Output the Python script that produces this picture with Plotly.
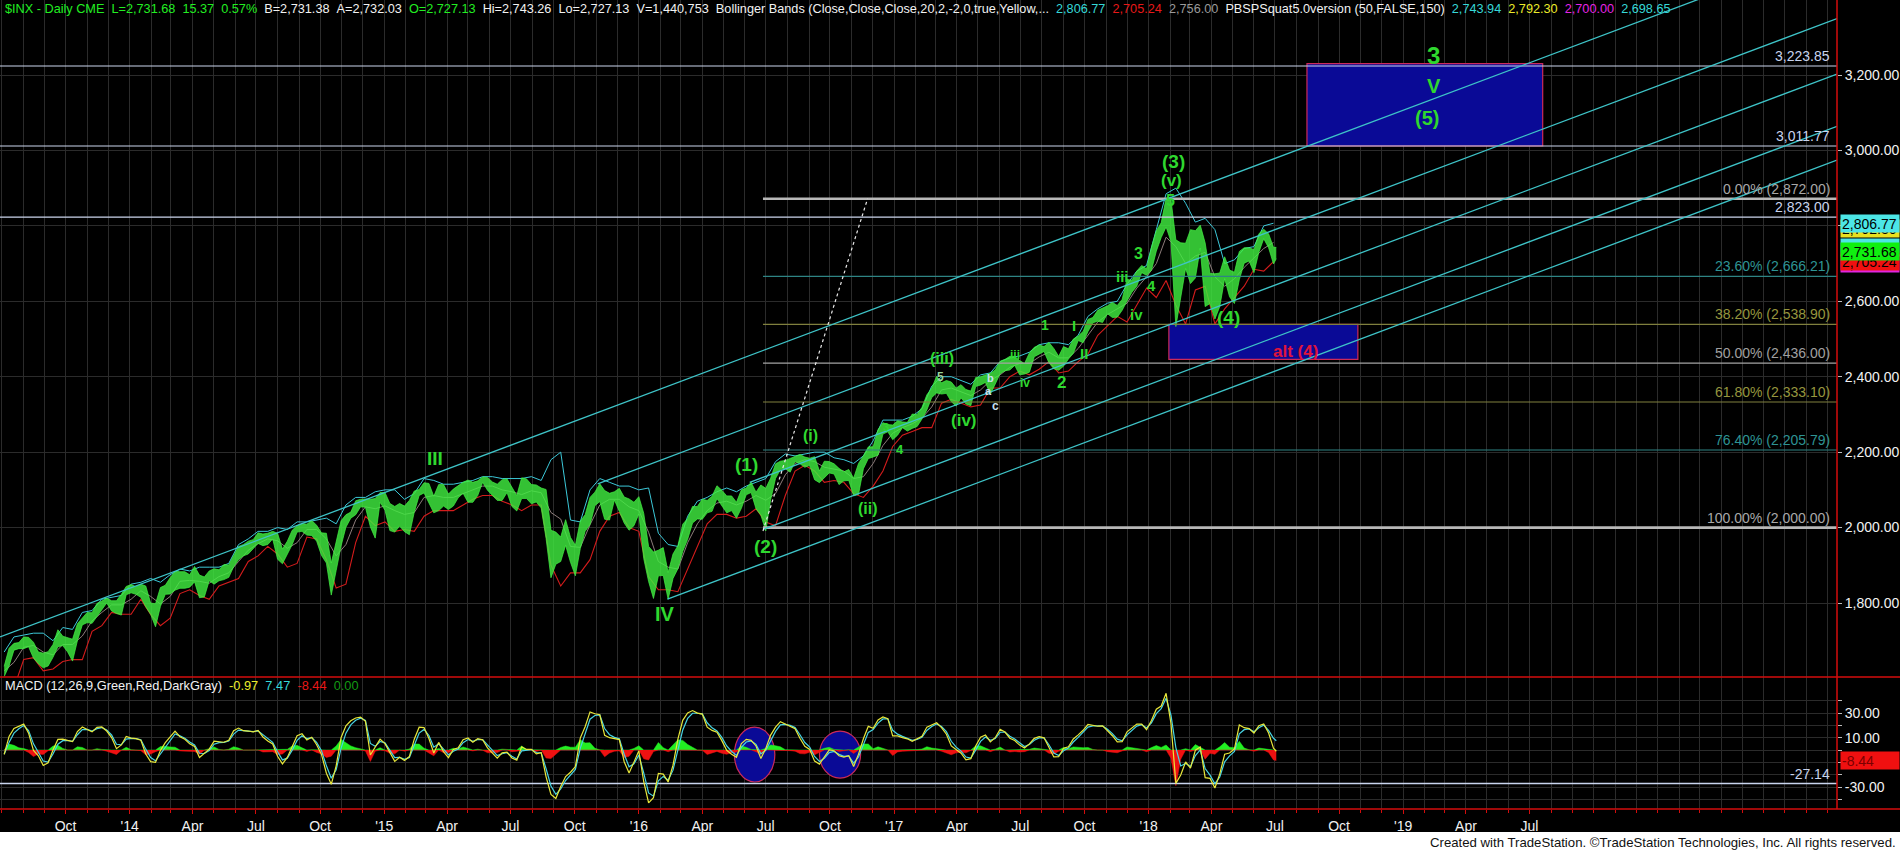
import pandas as pd
import plotly.graph_objects as go

# ---------------- DATA ----------------
week_dates = list(pd.date_range("2013-07-05", "2018-06-29", freq="W-FRI")) + [pd.Timestamp("2018-07-03")]
band_dates = week_dates[0:261:2]

week_high = [
    1632,1680,1693,1695,1710,1709,1696,1670,1667,1671,1690,1729,1712,1708,1704,1745,1760,1775,1774,1799,1805,1813,1806,1806,1823,1844,
    1849,1843,1850,1845,1800,1798,1841,1847,1867,1884,1883,1883,1875,1897,1874,1869,1885,1891,1888,1902,1901,1924,1950,1955,1964,1968,
    1986,1983,1985,1990,1985,1943,1964,1993,2005,2011,2009,2019,2006,1986,1985,1906,1966,2018,2034,2041,2071,2075,2076,2075,2077,2093,
    2093,2064,2056,2064,2057,2072,2097,2101,2119,2117,2083,2114,2114,2089,2102,2111,2120,2126,2120,2124,2134,2133,2121,2115,2127,2129,
    2105,2085,2132,2129,2114,2113,2105,2101,1993,1988,1975,2021,1974,1953,2017,2034,2080,2094,2116,2098,2091,2095,2104,2081,2076,2067,2082,
    2038,1950,1935,1940,1947,1881,1930,1952,2009,2024,2056,2056,2075,2072,2083,2111,2099,2084,2084,2067,2100,2105,2120,2094,2113,
    2104,2131,2169,2176,2178,2183,2188,2194,2187,2184,2188,2150,2176,2175,2169,2157,2148,2154,2131,2170,2190,2214,2214,2260,2278,2273,2272,
    2283,2280,2279,2301,2300,2319,2352,2370,2401,2384,2390,2386,2370,2379,2366,2362,2398,2400,2404,2409,2418,2441,2446,2454,2454,2443,
    2435,2463,2478,2484,2480,2491,2475,2454,2480,2474,2500,2508,2520,2552,2557,2576,2582,2588,2597,2589,2605,2658,2656,2680,2695,2686,
    2743,2787,2808,2873,2870,2763,2755,2754,2790,2787,2802,2755,2674,2673,2675,2718,2683,2677,2732,2742,2742,2737,2779,2791,2779,2743,2743]
week_low = [
    1605,1633,1675,1679,1679,1684,1654,1639,1628,1633,1656,1684,1687,1670,1646,1700,1742,1748,1746,1764,1784,1800,1779,1772,1768,1822,
    1827,1823,1815,1790,1770,1737,1791,1823,1824,1834,1839,1839,1842,1856,1814,1816,1859,1850,1859,1862,1868,1896,1915,1925,1930,1944,
    1958,1952,1955,1970,1916,1904,1928,1955,1988,1990,1980,1979,1964,1926,1906,1821,1886,1951,2001,2025,2034,2055,2054,2002,1972,2067,
    2046,1992,1988,2004,1989,1981,2041,2085,2092,2067,2039,2045,2057,2048,2057,2079,2091,2067,2067,2085,2120,2099,2085,2072,2072,2093,
    2056,2044,2077,2077,2063,2068,2052,1971,1867,1903,1910,1953,1908,1872,1944,1990,2008,2058,2069,2022,2020,2073,2043,2012,1993,2005,2036,
    1918,1857,1812,1872,1873,1810,1865,1891,1937,1969,2012,2023,2022,2039,2043,2077,2058,2039,2045,2025,2051,2087,2093,2050,2033,
    1991,2074,2130,2154,2156,2147,2175,2169,2160,2165,2127,2119,2133,2145,2142,2114,2124,2125,2084,2088,2156,2183,2187,2192,2248,2254,2233,
    2245,2265,2256,2263,2268,2288,2312,2345,2357,2354,2356,2334,2322,2344,2328,2323,2374,2378,2385,2353,2380,2408,2416,2418,2430,2405,
    2407,2412,2453,2459,2467,2437,2421,2417,2428,2447,2462,2496,2490,2520,2543,2547,2544,2567,2557,2558,2576,2601,2624,2640,2676,2669,
    2682,2733,2769,2797,2759,2533,2611,2687,2647,2662,2741,2586,2594,2553,2586,2660,2612,2594,2657,2701,2707,2676,2730,2766,2742,2699,2713]

bb_upper = [
    1670,1710,1715,1720,1720,1700,1735,1730,1775,1780,1810,1815,1820,
    1850,1855,1865,1855,1875,1890,1885,1895,1895,1895,1905,1955,1970,1990,1990,2000,1995,2015,2015,2020,2025,2010,2060,2080,2080,2095,
    2100,2100,2075,2090,2130,2125,2115,2115,2120,2125,2135,2135,2130,2130,2130,2135,2125,2180,2200,2020,2015,2100,2130,2120,2110,2110,
    2100,2105,1985,1955,1950,2030,2070,2080,2095,2105,2095,2110,2120,2130,2175,2195,2190,2195,2200,2200,2185,2180,2170,2190,2230,2285,2285,
    2285,2295,2315,2375,2400,2400,2390,2380,2405,2410,2440,2450,2455,2465,2485,2490,2490,2485,2510,2560,2580,2595,2600,2645,2680,2695,
    2790,2885,2900,2860,2810,2820,2790,2700,2710,2740,2745,2800,2807]
bb_lower = [
    1570,1575,1650,1655,1620,1625,1645,1650,1650,1725,1740,1775,1770,
    1770,1810,1770,1740,1760,1825,1835,1820,1810,1845,1855,1865,1910,1925,1950,1930,1895,1905,1975,1970,1915,1840,1850,1960,2030,2005,
    2015,1990,1995,1990,2030,2045,2045,2045,2060,2075,2085,2085,2070,2060,2045,2060,2060,1900,1845,1880,1880,1915,1990,2030,2040,2000,
    1990,1870,1835,1835,1830,1890,1950,2010,2035,2035,2025,2030,2050,2015,2005,2085,2150,2165,2150,2120,2125,2120,2090,2080,2110,2150,2215,
    2245,2255,2265,2265,2330,2340,2330,2320,2325,2370,2370,2400,2415,2405,2420,2440,2410,2415,2440,2460,2510,2535,2560,2545,2590,2635,
    2610,2655,2590,2540,2630,2640,2540,2580,2610,2640,2685,2680,2705]

macd_line = [
    -3.5,11,17.5,19,21,13.7,-0.3,-4.7,-12.5,-10.3,0,8.6,8.9,7.8,6.8,15,18.7,16.7,14.7,18.4,18.7,15.4,10.1,1.1,4.1,11,
    9.7,9.2,7.9,-3.2,-9.4,-10,-0.4,6,10.6,15.3,10.8,8.7,5,2.9,-6,-2.9,0.7,7.2,6.5,6.3,7.9,15.6,17.8,15.7,15.4,14.7,
    15.9,10.6,7.3,4.9,-5.1,-11.2,-6,3.2,11.6,13.3,8.2,10.4,4.3,-3.7,-18.8,-27.8,-12.8,10,19.7,23.7,26,26.7,23.3,-4,2,8.8,
    5.2,-2.4,-9.2,-5.8,-8.5,-5.3,8.8,18.5,18.2,9.4,-2.4,6.2,-1.4,-6.2,0.4,1.8,8.4,9.8,6.4,9.2,8.3,1.7,-2.6,-6.6,-2.3,-1.8,
    -6.4,-8.2,2.6,0.5,0.6,-3.1,-2.2,-21.7,-36,-39.3,-29.5,-21.5,-18,-13.4,9.7,18.9,30.9,29.4,28.6,11.9,10,9.3,8.5,-9.5,-18.7,-9.8,-0.6,
    -25.7,-42.9,-38.6,-18.9,-19.5,-25.9,-12.3,8.8,24.1,30.1,32,29.9,29.1,18.5,15.9,14.4,7.6,-0.2,-3.4,-5.9,5.3,8.7,7.9,3.3,-6.8,
    1.2,12.1,18.6,23,21.1,19.5,17.3,9.5,3,0.5,-9,-11.4,-5.3,0.1,-0.6,-4.6,-5.8,-4.6,-13.4,-3.3,9.1,19.2,17.7,24.4,26.8,25.4,11.5,
    11.4,10.1,9.1,7,9.1,11.1,18.6,20.6,22.1,18.1,12.8,3.3,0,-2.6,-8,-7,3.2,10.4,12.2,6.6,10,16.8,14.6,9.6,7.7,4,
    1.6,5,9.5,10.8,9.9,1.7,-5.6,-5.4,1.4,2.7,9,12.3,16,20.7,20.1,19.3,19.6,15.5,11.6,6.6,6.7,14.8,17.9,21,21,16.5,
    24,33.1,35.7,46,21.5,-27,-20.3,-9.7,-14.6,-0.1,2.4,-22.4,-23,-30.8,-19.3,-3.4,-2.4,0.8,20.3,18.1,17.4,13.8,19.7,21.2,13.8,1.5,-0.97]
macd_signal = [
    -3.5,6.2,13.7,17.2,19.8,15.7,5.0,-1.4,-8.9,-9.8,-3.2,4.7,7.6,7.7,7.1,12.4,16.6,16.7,15.3,17.3,18.2,16.3,12.2,4.7,4.3,8.8,
    9.4,9.3,8.4,0.7,-6.1,-8.7,-3.2,2.9,8.1,13.0,11.5,9.6,6.6,4.1,-2.6,-2.8,-0.4,4.7,6.0,6.2,7.3,12.9,16.2,15.8,15.5,14.9,
    15.6,12.2,8.9,6.2,-1.4,-8.0,-6.6,-0.1,7.8,11.5,9.3,10.1,6.2,-0.5,-12.8,-22.8,-16.1,1.4,13.7,20.4,24.1,25.9,24.1,5.3,3.0,6.9,
    5.8,0.3,-6.1,-5.9,-7.6,-6.1,3.9,13.7,16.7,11.8,2.3,5.0,0.8,-3.9,-1.0,0.9,5.9,8.5,7.1,8.5,8.4,3.9,-0.4,-4.5,-3.0,-2.2,
    -5.0,-7.2,-0.7,0.1,0.4,-2.0,-2.2,-15.2,-29.1,-35.9,-31.6,-24.7,-20.3,-15.7,1.3,13.1,25.0,28.0,28.4,17.4,12.4,10.3,9.1,-3.4,-13.6,-11.1,-4.1,
    -18.6,-34.8,-37.4,-25.0,-21.4,-24.5,-16.3,0.5,16.3,25.6,29.8,29.8,29.3,22.1,18.0,15.5,10.2,3.3,-1.2,-4.4,2.1,6.5,7.4,4.6,-3.1,
    -0.2,8.0,15.1,20.4,20.8,20.0,18.2,12.4,6.1,2.3,-5.2,-9.3,-6.7,-2.1,-1.1,-3.5,-5.1,-4.8,-10.6,-5.7,4.2,14.3,16.6,21.8,25.2,25.3,16.0,
    12.9,11.1,9.8,7.9,8.7,10.3,15.9,19.0,21.1,19.1,14.9,7.1,2.3,-0.9,-5.7,-6.6,-0.1,7.0,10.5,7.9,9.3,14.4,14.6,11.2,8.9,5.6,
    2.9,4.4,7.9,9.8,9.8,4.3,-2.4,-4.4,-0.6,1.6,6.5,10.3,14.1,18.6,19.6,19.4,19.5,16.8,13.3,8.8,7.4,12.3,16.1,19.4,20.5,17.9,
    22.0,29.5,33.6,41.9,28.2,2.0,-12.9,-10.8,-13.4,-4.5,0.1,-15.0,-20.4,-27.3,-21.9,-9.5,-4.7,-1.1,13.2,16.5,17.1,14.8,18.1,20.2,15.9,9.5,7.47]

fib_levels = [2872.00, 2666.21, 2538.90, 2436.00, 2333.10, 2205.79, 2000.00]
fib_texts = ["0.00% (2,872.00)", "23.60% (2,666.21)", "38.20% (2,538.90)", "50.00% (2,436.00)",
             "61.80% (2,333.10)", "76.40% (2,205.79)", "100.00% (2,000.00)"]
fib_start = "2016-06-27"
target_levels = [3223.85, 3011.77, 2823.00]
target_texts = ["3,223.85", "3,011.77", "2,823.00"]
macd_level = -27.14

channel_start_dates = ["2013-06-29", "2015-11-03", "2016-06-08", "2016-06-27", "2016-02-11"]
channel_start_prices = [1710, 2116, 2120, 1995, 1810]
channel_end_date = "2020-09-14"
channel_end_prices = [3538.5, 3349.6, 3202.3, 3064.0, 2974.2]

proj_dates = ["2016-06-27", "2016-11-24"]
proj_prices = [1991, 2872]

box_wave = {"x0": "2018-08-16", "x1": "2019-07-20", "y0": 3011.77, "y1": 3230}
box_alt4 = {"x0": "2018-01-30", "x1": "2018-10-28", "y0": 2446, "y1": 2538.9}

tick_dates = ["2013-10-01", "2014-01-01", "2014-04-01", "2014-07-01", "2014-10-01", "2015-01-01", "2015-04-01",
              "2015-07-01", "2015-10-01", "2016-01-01", "2016-04-01", "2016-07-01", "2016-10-01", "2017-01-01",
              "2017-04-01", "2017-07-01", "2017-10-01", "2018-01-01", "2018-04-01", "2018-07-01", "2018-10-01",
              "2019-01-01", "2019-04-01", "2019-07-01"]
tick_labels = ["Oct", "'14", "Apr", "Jul", "Oct", "'15", "Apr", "Jul", "Oct", "'16", "Apr", "Jul", "Oct", "'17",
               "Apr", "Jul", "Oct", "'18", "Apr", "Jul", "Oct", "'19", "Apr", "Jul"]
price_ticks = [1800, 2000, 2200, 2400, 2600, 2800, 3000, 3200]
price_tick_text = ["1,800.00", "2,000.00", "2,200.00", "2,400.00", "2,600.00", "", "3,000.00", "3,200.00"]
macd_ticks = [-40, -30, -20, -10, 0, 10, 20, 30, 40]
macd_tick_text = ["", "-30.00", "", "", "", "10.00", "", "30.00", ""]

# wave labels: (text, date, price, size, color)
G = "#2fd82f"
wave_labels = [
    ("III", "2015-03-15", 2184, 19, G), ("IV", "2016-02-08", 1771, 20, G),
    ("(1)", "2016-06-04", 2166, 19, G), ("(2)", "2016-06-30", 1951, 19, G),
    ("(i)", "2016-09-03", 2245, 16, G), ("(ii)", "2016-11-25", 2051, 16, G),
    ("(iii)", "2017-03-11", 2449, 16, G), ("(iv)", "2017-04-11", 2285, 17, G),
    ("4", "2017-01-10", 2206, 13, G), ("3", "2016-12-20", 2268, 11, G),
    ("5", "2017-03-08", 2400, 12, "#9ad29a"),
    ("b", "2017-05-19", 2396, 11, "#c8e0f0"), ("a", "2017-05-17", 2361, 11, "#c8e0f0"),
    ("c", "2017-05-26", 2322, 12, "#c8e0f0"),
    ("iii", "2017-06-23", 2458, 12, G), ("iv", "2017-07-07", 2384, 12, G),
    ("1", "2017-08-06", 2537, 14, G), ("I", "2017-09-16", 2537, 15, G),
    ("2", "2017-08-29", 2384, 17, G), ("II", "2017-10-01", 2462, 15, G),
    ("iii", "2017-11-25", 2665, 15, G), ("3", "2017-12-17", 2727, 16, G),
    ("4", "2018-01-05", 2643, 15, G), ("iv", "2017-12-14", 2566, 15, G),
    ("5", "2018-02-01", 2866, 16, G), ("(v)", "2018-02-03", 2919, 17, G),
    ("(3)", "2018-02-05", 2972, 19, G), ("(4)", "2018-04-25", 2557, 19, G),
    ("alt (4)", "2018-07-30", 2468, 17, "#e0143c"),
    ("3", "2019-02-14", 3253, 24, G), ("V", "2019-02-14", 3171, 20, G), ("(5)", "2019-02-04", 3086, 20, G),
]

# ---------------- FIGURE ----------------
FONT = "Liberation Sans, Arial, sans-serif"
X0, X1 = "2013-06-29", "2020-09-14"
P_RANGE = [1603.8, 3398.9]
M_RANGE = [-47.8, 59.2]
SPLIT = 132 / 809.0

fig = go.Figure()

def line(x, y, color, width=1.0, dash=None, yaxis="y"):
    fig.add_trace(go.Scatter(x=x, y=y, mode="lines", yaxis=yaxis, hoverinfo="skip",
                             line=dict(color=color, width=width, dash=dash), showlegend=False))

# Bollinger bands
line(band_dates, bb_upper, "#3cc8d8", 1.0)
line(band_dates, bb_lower, "#d41c1c", 1.1)
line(band_dates, [(u + l) / 2 for u, l in zip(bb_upper, bb_lower)], "#8c7c7a", 1.0)

# price range ribbon
fig.add_trace(go.Scatter(x=week_dates, y=week_low, mode="lines", line=dict(color="#44f044", width=0.7),
                         hoverinfo="skip", showlegend=False))
fig.add_trace(go.Scatter(x=week_dates, y=week_high, mode="lines", line=dict(color="#44f044", width=0.7),
                         fill="tonexty", fillcolor="rgba(64,236,64,0.82)", hoverinfo="skip", showlegend=False))

# horizontal target lines (full width)
for lv in target_levels:
    line([X0, X1], [lv, lv], "#ccd6ee", 1.2)

# fib lines
fib_line_colors = ["#b8b8b8", "#2e8484", "#80803e", "#a4a4a4", "#80803e", "#2e8484", "#b8b8b8"]
fib_line_widths = [2.6, 1.1, 1.1, 1.2, 1.1, 1.1, 2.6]
for lv, c, w in zip(fib_levels, fib_line_colors, fib_line_widths):
    line([fib_start, X1], [lv, lv], c, w)

# channel lines
for sd, sp, ep in zip(channel_start_dates, channel_start_prices, channel_end_prices):
    line([sd, channel_end_date], [sp, ep], "#3ec4c8", 1.3)

# projection dotted line
line(proj_dates, proj_prices, "#e8e8e8", 1.2, dash="dot")

# MACD
hist = [m - s for m, s in zip(macd_line, macd_signal)]
fig.add_trace(go.Scatter(x=week_dates, y=[max(h, 0) for h in hist], yaxis="y2", mode="lines",
                         line=dict(color="#22ee22", width=0.5), fill="tozeroy", fillcolor="#22ee22",
                         hoverinfo="skip", showlegend=False))
fig.add_trace(go.Scatter(x=week_dates, y=[min(h, 0) for h in hist], yaxis="y2", mode="lines",
                         line=dict(color="#ee1111", width=0.5), fill="tozeroy", fillcolor="#ee1111",
                         hoverinfo="skip", showlegend=False))
line([X0, X1], [macd_level, macd_level], "#c8d4ee", 1.4, yaxis="y2")
line(week_dates, macd_signal, "#46d4e4", 1.2, yaxis="y2")
line(week_dates, macd_line, "#e8e83a", 1.2, yaxis="y2")

# ---------------- SHAPES ----------------
def shape_layer():
    try:
        go.layout.Shape(layer="between")
        return "between"
    except Exception:
        return "below"

LAY = shape_layer()
shapes = []
for b in (box_wave, box_alt4):
    shapes.append(dict(type="rect", xref="x", yref="y", x0=b["x0"], x1=b["x1"], y0=b["y0"], y1=b["y1"],
                       fillcolor="#0a0a96", line=dict(color="#cc2a5a", width=1.2), layer=LAY))
for (a, b_, c, d) in [("2016-05-17", "2016-07-14", -25.9, 18.6), ("2016-09-16", "2016-11-14", -22.7, 15.4)]:
    shapes.append(dict(type="circle", xref="x", yref="y2", x0=a, x1=b_, y0=c, y1=d,
                       fillcolor="#0a0a96", line=dict(color="#cc2a5a", width=1.2), layer=LAY))
RED = "#d40c0c"
XR = 1900 / 1837.0
shapes += [
    dict(type="line", xref="paper", yref="paper", x0=0, x1=XR, y0=SPLIT, y1=SPLIT, line=dict(color=RED, width=1.5)),
    dict(type="line", xref="paper", yref="paper", x0=0, x1=XR, y0=0, y1=0, line=dict(color=RED, width=1.5)),
    dict(type="line", xref="paper", yref="paper", x0=1, x1=1, y0=0, y1=1, line=dict(color=RED, width=1.5)),
    dict(type="rect", xref="paper", yref="paper", x0=-0.01, x1=XR + 0.01, y0=(809 - 851) / 809.0,
         y1=(809 - 832) / 809.0, fillcolor="white", line=dict(width=0)),
]

# ---------------- ANNOTATIONS ----------------
ann = []
def span(t, c):
    return '<span style="color:%s">%s</span>' % (c, t)
SP = "\u00a0\u00a0"
GR, WH, CY, RD, GY, YL, MG = "#22ee22", "#f2f2f2", "#36d8d8", "#e81818", "#9a9a9a", "#ecec2a", "#e624e6"
header = SP.join([span("$INX - Daily CME", GR), span("L=2,731.68", GR), span("15.37", GR), span("0.57%", GR),
                  span("B=2,731.38", WH), span("A=2,732.03", WH), span("O=2,727.13", GR), span("Hi=2,743.26", WH),
                  span("Lo=2,727.13", WH), span("V=1,440,753", WH),
                  span("Bollinger Bands (Close,Close,Close,20,2,-2,0,true,Yellow,...", WH),
                  span("2,806.77", CY), span("2,705.24", RD), span("2,756.00", GY),
                  span("PBSPSquat5.0version (50,FALSE,150)", WH), span("2,743.94", CY), span("2,792.30", YL),
                  span("2,700.00", MG), span("2,698.65", CY)])
ann.append(dict(text=header, xref="paper", yref="paper", x=0.0015, y=(809 - 9) / 809.0, xanchor="left",
                yanchor="middle", showarrow=False, font=dict(family=FONT, size=12.7, color=WH)))
macd_head = SP.join([span("MACD (12,26,9,Green,Red,DarkGray)", WH), span("-0.97", YL), span("7.47", CY),
                     span("-8.44", RD), span("0.00", "#139a13")])
ann.append(dict(text=macd_head, xref="paper", yref="paper", x=0.0015, y=(809 - 685) / 809.0, xanchor="left",
                yanchor="middle", showarrow=False, font=dict(family=FONT, size=12.8, color=WH)))
ann.append(dict(text="Created with TradeStation. \u00a9TradeStation Technologies, Inc. All rights reserved.",
                xref="paper", yref="paper", x=1898 / 1837.0, y=(809 - 842) / 809.0, xanchor="right",
                yanchor="middle", showarrow=False, font=dict(family=FONT, size=13.2, color="#111111")))

XL = 1832 / 1837.0
for lv, t in zip(target_levels, target_texts):
    ann.append(dict(text=t, xref="paper", yref="y", x=XL, y=lv, xanchor="right", yanchor="bottom",
                    showarrow=False, font=dict(family=FONT, size=14, color="#c8d4ee")))
fib_text_colors = ["#a8a8a8", "#2e9494", "#96963e", "#a0a0a0", "#96963e", "#2e9494", "#a8a8a8"]
for lv, t, c in zip(fib_levels, fib_texts, fib_text_colors):
    ann.append(dict(text=t, xref="paper", yref="y", x=XL, y=lv, xanchor="right", yanchor="bottom",
                    showarrow=False, font=dict(family=FONT, size=14, color=c)))
ann.append(dict(text="-27.14", xref="paper", yref="y2", x=XL, y=macd_level, xanchor="right", yanchor="bottom",
                showarrow=False, font=dict(family=FONT, size=14, color="#c8d4ee")))

for t, d, p, s, c in wave_labels:
    ann.append(dict(text="<b>%s</b>" % t, xref="x", yref="y", x=d, y=p, showarrow=False,
                    font=dict(family=FONT, size=s, color=c)))

# price markers on the axis (stacked as in the reference)
markers = [("2,792.30", 2792.30, "#e8e020"), ("2,806.77", 2806.77, "#4ce6e6"),
           ("2,700.00", 2700.00, "#e024e0"), ("2,743.94", 2743.94, "#4ce6e6"),
           ("2,705.24", 2705.24, "#f01010"), ("2,731.68", 2731.68, "#10f010")]
for t, v, c in markers:
    ann.append(dict(text=t, xref="paper", yref="y", x=1.0015, y=v, xanchor="left", yanchor="middle",
                    showarrow=False, bgcolor=c, width=56, height=15, align="left",
                    font=dict(family=FONT, size=14, color="#000000")))
ann.append(dict(text="-8.44", xref="paper", yref="y2", x=1.0015, y=-8.44, xanchor="left", yanchor="middle",
                showarrow=False, bgcolor="#f01010", width=56, height=15, align="left",
                font=dict(family=FONT, size=14, color="#7a0000")))

GRID = "#2b2b2b"
fig.update_layout(
    width=1900, height=850, margin=dict(l=0, r=63, t=0, b=41),
    paper_bgcolor="black", plot_bgcolor="black", showlegend=False,
    shapes=shapes, annotations=ann,
    xaxis=dict(type="date", range=[X0, X1], anchor="y2", tickmode="array", tickvals=tick_dates,
               ticktext=tick_labels, tickfont=dict(family=FONT, size=14, color="#f2f2f2"),
               ticks="outside", ticklen=4, tickcolor=RED, showgrid=True, gridcolor=GRID, gridwidth=1,
               zeroline=False, showline=False,
               minor=dict(tickmode="linear", tick0="2013-07-01", dtick="M1", showgrid=True, gridcolor=GRID,
                          ticks="outside", ticklen=3, tickcolor=RED)),
    yaxis=dict(domain=[SPLIT, 1], range=P_RANGE, side="right", tickmode="array", tickvals=price_ticks,
               ticktext=price_tick_text, tickfont=dict(family=FONT, size=14, color="#f2f2f2"),
               ticks="outside", ticklen=4, tickcolor="#bbbbbb", showgrid=True, gridcolor=GRID,
               zeroline=False, showline=False),
    yaxis2=dict(domain=[0, SPLIT], range=M_RANGE, side="right", tickmode="array", tickvals=macd_ticks,
                ticktext=macd_tick_text, tickfont=dict(family=FONT, size=14, color="#f2f2f2"),
                ticks="outside", ticklen=4, tickcolor="#bbbbbb", showgrid=True, gridcolor=GRID,
                zeroline=False, showline=False),
)

fig.write_html("out.html", config={"displayModeBar": False},
               post_script="document.body.style.margin='0';document.body.style.background='black';")
